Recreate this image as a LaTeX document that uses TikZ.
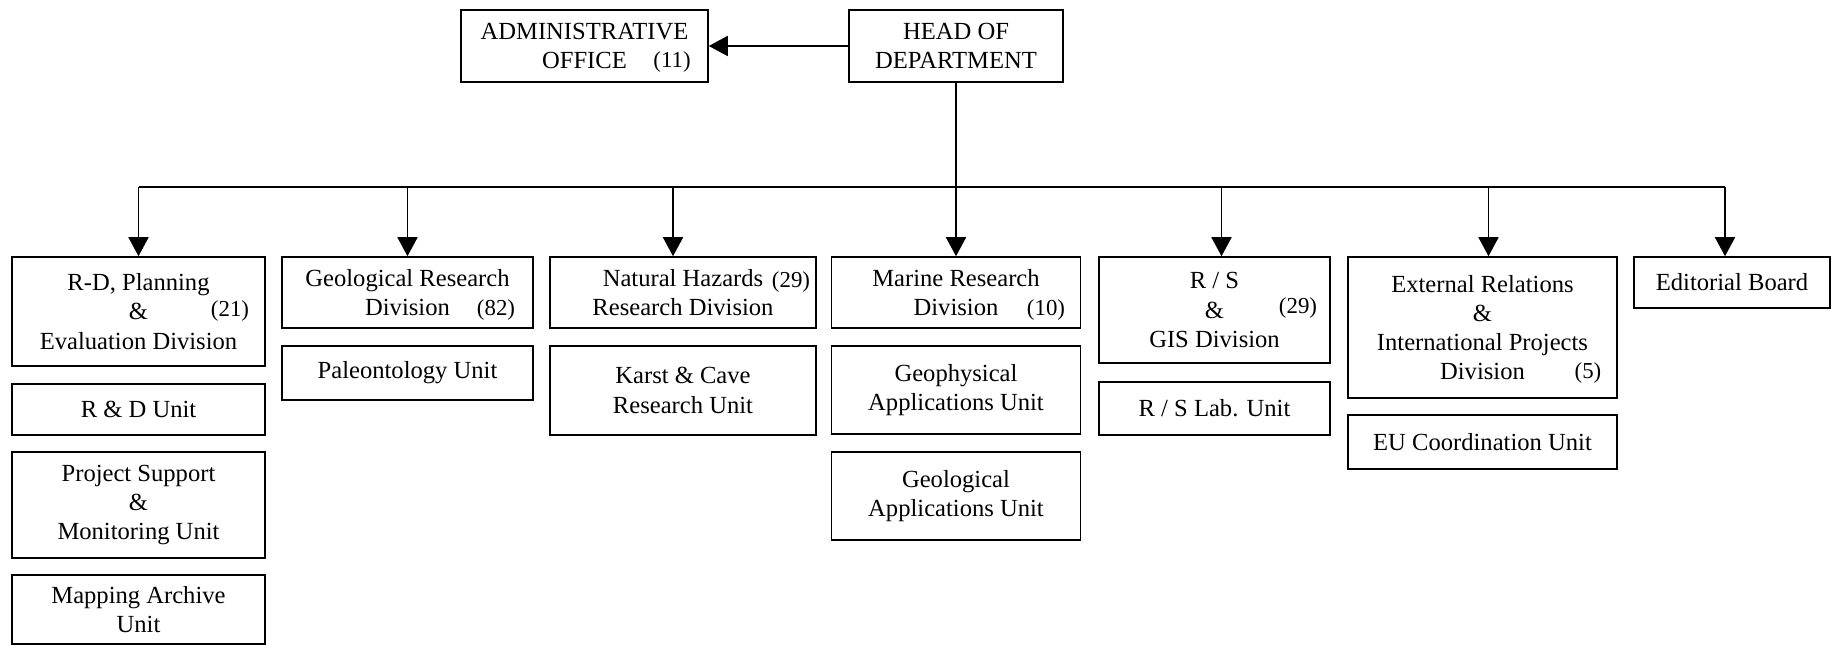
\documentclass[tikz,border=0pt]{standalone}
\usepackage{fontspec}
\setmainfont{Liberation Serif}
\usetikzlibrary{arrows.meta, calc, positioning}

\tikzset{
  box/.style={draw=black, line width=0.9pt, align=center, inner sep=2pt,
    font=\fontsize{14}{16.6}\selectfont},
  num/.style={font=\fontsize{13}{15}\selectfont, inner sep=0pt},
  link/.style={-{Triangle[length=10.8pt, width=11.4pt]}, line width=0.9pt},
}

\begin{document}
\begin{tikzpicture}[x=0.02cm, y=-0.02cm]
    \useasboundingbox (0,0) rectangle (1832,645);

    % Head and office
    \node[box, minimum width=4.27cm, minimum height=1.43cm] (head) at (956,46) {HEAD OF\\DEPARTMENT};
    \node[box, minimum width=4.94cm, minimum height=1.43cm] (adm) at (584.5,46) {ADMINISTRATIVE\\OFFICE};
    \node[num] (n0) at (672,62) {(11)};
    \draw[link] (head.west) -- (adm.east);

    % Divisions
    \node[box, minimum width=5.06cm, minimum height=2.18cm] (d1) at (138.5,311.5) {R-D, Planning\\\&\\Evaluation Division};
    \node[box, minimum width=5.02cm, minimum height=1.42cm] (d2) at (407.5,292.5) {Geological Research\\Division};
    \node[box, minimum width=5.32cm, minimum height=1.42cm] (d3) at (683,292.5) {Natural Hazards\\Research Division};
    \node[box, minimum width=4.98cm, minimum height=1.42cm] (d4) at (956,292.5) {Marine Research\\Division};
    \node[box, minimum width=4.62cm, minimum height=2.12cm] (d5) at (1214.5,310) {R / S\\\&\\GIS Division};
    \node[box, minimum width=5.38cm, minimum height=2.82cm] (d6) at (1482.5,327.5) {External Relations\\\&\\International Projects\\Division};
    \node[box, minimum width=3.92cm, minimum height=1.02cm] (d7) at (1732,282.5) {Editorial Board};

    % Staff numbers
    \node[num] (n1) at (230,311) {(21)};
    \node[num] (n2) at (496,310) {(82)};
    \node[num] (n3) at (791,282) {(29)};
    \node[num] (n4) at (1046,310) {(10)};
    \node[num] (n5) at (1298,308) {(29)};
    \node[num] (n6) at (1588,373) {(5)};

    % Units
    \node[box, minimum width=5.06cm, minimum height=1.02cm] (u11) at (138.5,409.5) {R \& D Unit};
    \node[box, minimum width=5.06cm, minimum height=2.12cm] (u12) at (138.5,505) {Project Support\\\&\\Monitoring Unit};
    \node[box, minimum width=5.06cm, minimum height=1.38cm] (u13) at (138.5,609.5) {Mapping Archive\\Unit};
    \node[box, minimum width=5.02cm, minimum height=1.08cm] (u21) at (407.5,373) {Paleontology Unit};
    \node[box, minimum width=5.32cm, minimum height=1.78cm] (u31) at (683,390.5) {Karst \& Cave\\Research Unit};
    \node[box, minimum width=4.98cm, minimum height=1.76cm] (u41) at (956,390) {Geophysical\\Applications Unit};
    \node[box, minimum width=4.98cm, minimum height=1.76cm] (u42) at (956,496) {Geological\\Applications Unit};
    \node[box, minimum width=4.62cm, minimum height=1.06cm] (u51) at (1214.5,408.5) {R / S Lab. Unit};
    \node[box, minimum width=5.38cm, minimum height=1.08cm] (u61) at (1482.5,442) {EU Coordination Unit};

    % Connectors
    \coordinate (bus) at (956,187);
    \draw[link] (head.south) -- (d4.north);
    \foreach \d/\dx in {d1/0, d2/0, d3/-10, d5/7, d6/6, d7/-7} {
      \coordinate (t\d) at ($(\d.north)+(\dx,0)$);
      \draw[link] (bus -| t\d) -- (t\d);
    }
    \draw[line width=0.9pt] (bus -| td1) -- (bus -| td7);
\end{tikzpicture}
\end{document}
